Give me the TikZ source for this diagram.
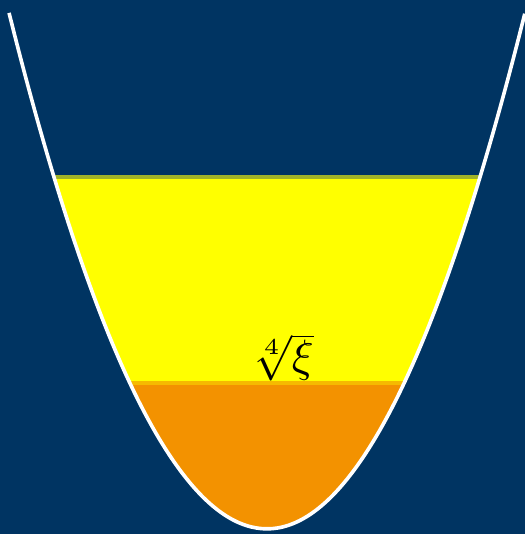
\documentclass[tikz,border=0pt]{standalone}
\usepackage{amsmath}
\usepackage{tikz}
\usetikzlibrary{positioning}

\definecolor{bgblue}{RGB}{0,52,98}
\definecolor{bandyellow}{RGB}{255,255,0}
\definecolor{bandorange}{RGB}{243,146,0}
\definecolor{edgeolive}{RGB}{160,178,40}
\definecolor{edgeamber}{RGB}{246,186,0}

\begin{document}
\begin{tikzpicture}[
    curve/.style={white, thick, smooth, samples=120},
    level/.style={line width=0.8pt},
]
    \useasboundingbox (-2.07,-0.04) rectangle (2.0,4.1);
    \fill[bgblue] (-2.07,-0.04) rectangle (2.0,4.1);

    \begin{scope}
        \clip plot[smooth, samples=120, domain=-2:2] (\x,{\x*\x});
        \fill[bandyellow] (-2.1,1.13) rectangle (2.1,2.73);
        \fill[bandorange] (-2.1,-0.1) rectangle (2.1,1.13);
    \end{scope}

    \draw[level, edgeolive] ({-sqrt(2.73)},2.73) -- ({sqrt(2.73)},2.73);
    \draw[level, edgeamber] ({-sqrt(1.13)},1.13) -- ({sqrt(1.13)},1.13);

    \node[inner sep=0pt] (lbl) at (0.12,1.33) {$\sqrt[4]{\xi}$};

    \draw[curve] plot[domain=-2:2] (\x,{\x*\x});
\end{tikzpicture}
\end{document}
